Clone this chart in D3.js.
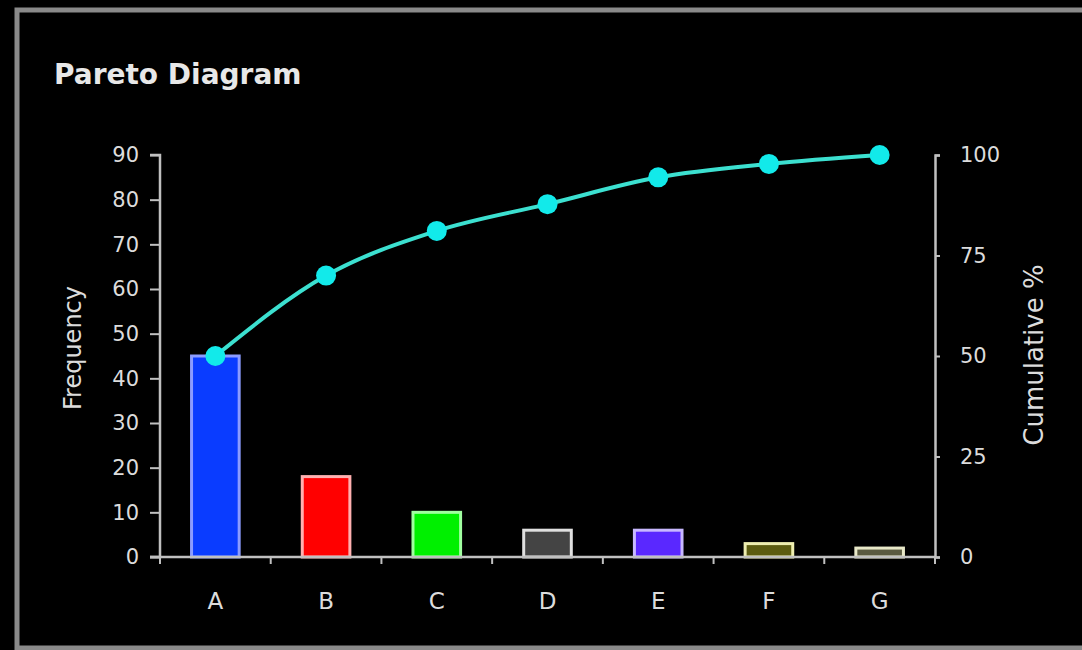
<!DOCTYPE html>
<html>
<head>
<meta charset="utf-8">
<script src="https://cdn.jsdelivr.net/npm/d3@7"></script>
<style>
  html, body { margin: 0; padding: 0; background: #000; }
  svg { display: block; }
  text { font-family: "DejaVu Sans", Verdana, sans-serif; }
</style>
</head>
<body>
<svg id="chart" width="1082" height="650"></svg>
<script>
// Pareto data: defect categories and their frequencies
const categories = ["A", "B", "C", "D", "E", "F", "G"];
const frequencies = [45, 18, 10, 6, 6, 3, 2];
const barFills = ["#0a3cff", "#ff0000", "#00f000", "#444444", "#5a28ff", "#5c5c10", "#5a5a40"];
const barStrokes = ["#8c9cff", "#ffb0b0", "#a0ffa0", "#e0e0e0", "#c8b8ff", "#eeeeb0", "#e8e8c8"];
const freqTicks = [0, 10, 20, 30, 40, 50, 60, 70, 80, 90];
const cumTicks = [0, 25, 50, 75, 100];

const total = d3.sum(frequencies);
let run = 0;
const cumulative = frequencies.map(v => { run += v; return run / total * 100; });

const svg = d3.select("#chart");

// outer frame
svg.append("rect")
  .attr("x", 17).attr("y", 10)
  .attr("width", 1120).attr("height", 638)
  .attr("fill", "none")
  .attr("stroke", "#8a8a8a")
  .attr("stroke-width", 5);

const plotLeft = 160, plotRight = 935, plotTop = 155, plotBottom = 557;

const x = d3.scaleBand().domain(categories).range([plotLeft, plotRight]).paddingInner(0.57).paddingOuter(0.285);
const yFreq = d3.scaleLinear().domain([0, 90]).range([plotBottom, plotTop]);
const yCum = d3.scaleLinear().domain([0, 100]).range([plotBottom, plotTop]);

const axisColor = "#c0c0c0";
const labelColor = "#dcdcdc";

// title
svg.append("text")
  .attr("x", 54).attr("y", 84)
  .attr("fill", "#e8e8e8")
  .attr("font-size", 28)
  .attr("font-weight", "bold")
  .text("Pareto Diagram");

// bars
svg.append("g").selectAll("rect")
  .data(categories)
  .join("rect")
  .attr("x", d => x(d))
  .attr("width", x.bandwidth())
  .attr("y", (d, i) => yFreq(frequencies[i]))
  .attr("height", (d, i) => plotBottom - yFreq(frequencies[i]))
  .attr("fill", (d, i) => barFills[i])
  .attr("stroke", (d, i) => barStrokes[i])
  .attr("stroke-width", 3);

// left axis
const gLeft = svg.append("g").attr("transform", `translate(${plotLeft},0)`)
  .call(d3.axisLeft(yFreq).tickValues(freqTicks).tickSize(10).tickPadding(11));
// right axis
const gRight = svg.append("g").attr("transform", `translate(${plotRight},0)`)
  .call(d3.axisRight(yCum).tickValues(cumTicks).tickSize(5).tickPadding(20));
// bottom axis with ticks at band edges
const xEdges = categories.map(c => x(c) - x.step() * x.paddingInner() / 2).concat([plotRight]);
const gBottom = svg.append("g").attr("transform", `translate(0,${plotBottom})`)
  .call(d3.axisBottom(x).tickSize(0).tickPadding(36));
gBottom.selectAll(".edge")
  .data(xEdges)
  .join("line")
  .attr("class", "edge")
  .attr("x1", d => d).attr("x2", d => d)
  .attr("y1", 0).attr("y2", 7)
  .attr("stroke", axisColor).attr("stroke-width", 2);

[gLeft, gRight, gBottom].forEach(g => {
  g.select(".domain").attr("stroke", axisColor).attr("stroke-width", 2.5);
  g.selectAll(".tick line").attr("stroke", axisColor).attr("stroke-width", 2);
  g.selectAll(".tick text").attr("fill", labelColor).attr("font-size", 21)
    .attr("font-family", "'DejaVu Sans', Verdana, sans-serif");
});
gBottom.selectAll(".tick text").attr("font-size", 23);
gLeft.select(".domain").attr("d", `M-10,${plotTop}H0V${plotBottom}H-10`);
gBottom.select(".domain").attr("d", `M${plotLeft - 10},0H${plotRight}`);

// axis titles
svg.append("text")
  .attr("transform", `translate(81,348) rotate(-90)`)
  .attr("text-anchor", "middle")
  .attr("fill", labelColor)
  .attr("font-size", 24)
  .text("Frequency");
svg.append("text")
  .attr("transform", `translate(1043,355) rotate(-90)`)
  .attr("text-anchor", "middle")
  .attr("fill", labelColor)
  .attr("font-size", 26)
  .text("Cumulative %");

// cumulative line
const line = d3.line()
  .x((d, i) => x(categories[i]) + x.bandwidth() / 2)
  .y(d => yCum(d))
  .curve(d3.curveMonotoneX);

svg.append("path")
  .datum(cumulative)
  .attr("d", line)
  .attr("fill", "none")
  .attr("stroke", "#3ce0d0")
  .attr("stroke-width", 4);

svg.append("g").selectAll("circle")
  .data(cumulative)
  .join("circle")
  .attr("cx", (d, i) => x(categories[i]) + x.bandwidth() / 2)
  .attr("cy", d => yCum(d))
  .attr("r", 10)
  .attr("fill", "#12eaea");
</script>
</body>
</html>
